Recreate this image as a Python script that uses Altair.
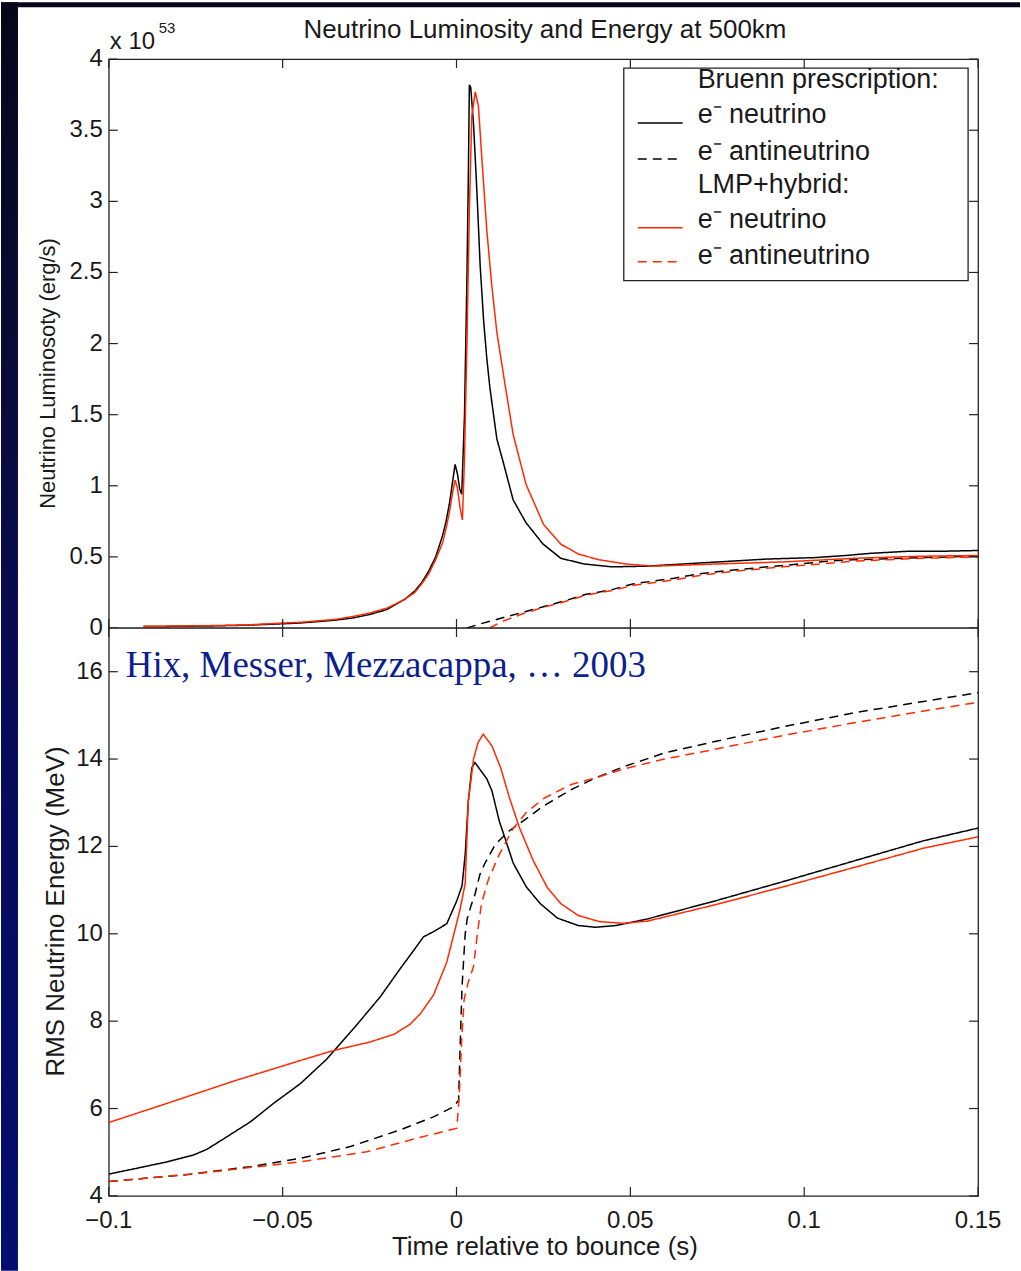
import altair as alt
import pandas as pd

# ---------------- data ----------------
SERIES = ["Bruenn e\u207b neutrino", "Bruenn e\u207b antineutrino",
          "LMP+hybrid e\u207b neutrino", "LMP+hybrid e\u207b antineutrino"]

# Luminosity (10^53 erg/s)
lum_bn_t = [-0.09, -0.08, -0.07, -0.06, -0.05, -0.045, -0.04, -0.035, -0.03, -0.025, -0.02, -0.015,
            -0.012, -0.01, -0.008, -0.006, -0.004, -0.003, -0.002, -0.001, -0.0004, 0.0003, 0.0009,
            0.0015, 0.0023, 0.0030, 0.0034, 0.0037, 0.0041, 0.0049, 0.0054, 0.0059, 0.0068, 0.0078,
            0.0087, 0.0096, 0.0116, 0.0135, 0.0163, 0.020, 0.0249, 0.030, 0.0368, 0.0447, 0.0547,
            0.0685, 0.079, 0.0893, 0.103, 0.112, 0.119, 0.130, 0.140, 0.150]
lum_bn_v = [0.01, 0.012, 0.015, 0.02, 0.03, 0.035, 0.045, 0.055, 0.07, 0.095, 0.13, 0.2,
            0.26, 0.32, 0.4, 0.5, 0.65, 0.75, 0.88, 1.05, 1.15, 1.08, 0.98,
            0.94, 1.5, 2.47, 3.17, 3.82, 3.8, 3.54, 3.3, 3.05, 2.55, 2.16,
            1.9, 1.69, 1.33, 1.16, 0.9, 0.74, 0.59, 0.49, 0.45, 0.43, 0.435,
            0.455, 0.47, 0.485, 0.495, 0.51, 0.525, 0.54, 0.54, 0.545]

lum_ba_t = [0.003, 0.007, 0.013, 0.019, 0.025, 0.031, 0.037, 0.0447, 0.0507, 0.0626, 0.0695,
            0.0804, 0.094, 0.107, 0.114, 0.134, 0.150]
lum_ba_v = [0.0, 0.03, 0.07, 0.11, 0.15, 0.19, 0.235, 0.27, 0.31, 0.35, 0.38,
            0.41, 0.44, 0.47, 0.48, 0.495, 0.505]

lum_ln_t = [-0.09, -0.08, -0.07, -0.06, -0.05, -0.045, -0.04, -0.035, -0.03, -0.025, -0.02, -0.015,
            -0.012, -0.01, -0.008, -0.006, -0.004, -0.003, -0.002, -0.001, -0.0004, 0.0003, 0.0010,
            0.0017, 0.0023, 0.0030, 0.0037, 0.0044, 0.0054, 0.0063, 0.0073, 0.0087, 0.0101, 0.0116,
            0.0139, 0.0163, 0.020, 0.025, 0.030, 0.035, 0.041, 0.0487, 0.0567, 0.0745, 0.0943,
            0.114, 0.134, 0.150]
lum_ln_v = [0.012, 0.014, 0.017, 0.022, 0.035, 0.04, 0.05, 0.06, 0.08, 0.105, 0.14, 0.2,
            0.25, 0.31, 0.38, 0.48, 0.6, 0.7, 0.82, 0.97, 1.04, 0.98, 0.85,
            0.76, 1.2, 2.0, 2.94, 3.6, 3.77, 3.67, 3.3, 2.8, 2.42, 2.08,
            1.72, 1.36, 1.01, 0.73, 0.59, 0.52, 0.48, 0.45, 0.435, 0.45, 0.465,
            0.49, 0.505, 0.51]

lum_la_t = [0.0095, 0.013, 0.019, 0.025, 0.031, 0.037, 0.045, 0.051, 0.063, 0.070, 0.080,
            0.094, 0.107, 0.114, 0.134, 0.150]
lum_la_v = [0.0, 0.045, 0.1, 0.145, 0.185, 0.23, 0.265, 0.3, 0.34, 0.37, 0.4,
            0.43, 0.455, 0.47, 0.49, 0.50]

# RMS energy (MeV)
en_bn_t = [-0.1, -0.0927, -0.0832, -0.0755, -0.0717, -0.0659, -0.0592, -0.0526, -0.0449, -0.0372,
           -0.0296, -0.022, -0.0162, -0.0125, -0.0095, -0.0066, -0.0028, 0.0001, 0.0016, 0.0025,
           0.0034, 0.0044, 0.0053, 0.0087, 0.0102, 0.0123, 0.0142, 0.0163, 0.0201, 0.0241, 0.029,
           0.035, 0.040, 0.0459, 0.0549, 0.0747, 0.0946, 0.1144, 0.1343, 0.150]
en_bn_v = [4.5, 4.62, 4.78, 4.94, 5.07, 5.36, 5.70, 6.12, 6.57, 7.14,
           7.83, 8.55, 9.2, 9.6, 9.93, 10.05, 10.23, 10.76, 11.1, 11.82,
           13.04, 13.8, 13.92, 13.55, 13.27, 12.58, 12.13, 11.62, 11.07, 10.69, 10.36,
           10.19, 10.15, 10.19, 10.34, 10.76, 11.21, 11.67, 12.13, 12.42]

en_ba_t = [-0.1, -0.0784, -0.0592, -0.0449, -0.0305, -0.0162, -0.0066, -0.0009, 0.0006, 0.0010,
           0.0016, 0.0025, 0.0031, 0.0042, 0.0053, 0.0067, 0.0082, 0.0112, 0.0152, 0.0191, 0.0251,
           0.033, 0.040, 0.0479, 0.0598, 0.0747, 0.0946, 0.1144, 0.1343, 0.150]
en_ba_v = [4.33, 4.48, 4.67, 4.86, 5.13, 5.51, 5.81, 6.04, 6.19, 7.3,
           8.8, 10.0, 10.35, 10.65, 10.9, 11.35, 11.62, 12.05, 12.36, 12.58, 12.93,
           13.3, 13.57, 13.82, 14.14, 14.41, 14.75, 15.06, 15.32, 15.52]

en_ln_t = [-0.1, -0.0832, -0.064, -0.0449, -0.0353, -0.025, -0.018, -0.0135, -0.0104, -0.0066,
           -0.0028, 0.001, 0.0025, 0.0034, 0.0049, 0.0062, 0.0077, 0.0102, 0.0127, 0.0152, 0.0181,
           0.0221, 0.0261, 0.030, 0.035, 0.041, 0.0479, 0.0549, 0.0747, 0.0946, 0.1144, 0.1343, 0.150]
en_ln_v = [5.68, 6.12, 6.63, 7.1, 7.33, 7.52, 7.7, 7.92, 8.17, 8.6,
           9.35, 10.55, 11.15, 13.04, 14.0, 14.38, 14.57, 14.3, 13.8, 13.12, 12.43,
           11.67, 11.06, 10.69, 10.42, 10.28, 10.24, 10.29, 10.67, 11.09, 11.52, 11.96, 12.22]

en_la_t = [-0.1, -0.0736, -0.0449, -0.0258, -0.0114, 0.0001, 0.0008, 0.0015, 0.0022, 0.0034,
           0.0049, 0.0060, 0.0072, 0.0092, 0.0122, 0.0162, 0.0201, 0.0251, 0.033, 0.040, 0.0479,
           0.0598, 0.0747, 0.0946, 0.1144, 0.1343, 0.150]
en_la_v = [4.33, 4.52, 4.78, 5.01, 5.32, 5.55, 6.3, 7.6, 8.5, 8.9,
           9.25, 10.0, 10.7, 11.25, 11.8, 12.4, 12.78, 13.1, 13.42, 13.57, 13.77,
           14.0, 14.23, 14.55, 14.83, 15.1, 15.3]

X_TICKS = [-0.1, -0.05, 0, 0.05, 0.1, 0.15]
X_LABELS = ["\u22120.1", "\u22120.05", "0", "0.05", "0.1", "0.15"]
LUM_TICKS = [0, 0.5, 1, 1.5, 2, 2.5, 3, 3.5, 4]
LUM_LABELS = ["0", "0.5", "1", "1.5", "2", "2.5", "3", "3.5", "4"]
EN_TICKS = [4, 6, 8, 10, 12, 14, 16]
EN_LABELS = ["4", "6", "8", "10", "12", "14", "16"]

TITLE = "Neutrino Luminosity and Energy at 500km"
LUM_TITLE = "Neutrino Luminosoty (erg/s)"
EN_TITLE = "RMS Neutrino Energy (MeV)"
X_TITLE = "Time relative to bounce (s)"
NOTE = "Hix, Messer, Mezzacappa, \u2026 2003"
LEGEND_ROWS = ["Bruenn prescription:", "e\u207b neutrino", "e\u207b antineutrino",
               "LMP+hybrid:", "e\u207b neutrino", "e\u207b antineutrino"]

# ---------------- styling ----------------
W, H1, H2 = 871, 570, 569
FONT = "Liberation Sans"
TXT = "#1a1a1a"
AX = "#222222"
BLACK, RED = "#000000", "#ff2a00"
COLORS = [BLACK, BLACK, RED, RED]
DASHES = [[1, 0], [9, 6], [1, 0], [9, 6]]
TICK = 9
LABEL_SIZE = 24

xscale = alt.Scale(domain=[-0.1, 0.15], nice=False, zero=False)
lscale = alt.Scale(domain=[0, 4], nice=False, zero=False)
escale = alt.Scale(domain=[4, 17], nice=False, zero=False)


def frame(parts):
    rows = []
    for name, ts, vs in parts:
        for t, v in zip(ts, vs):
            rows.append({"t": t, "v": v, "series": name})
    return pd.DataFrame(rows)


lum_df = frame([(SERIES[0], lum_bn_t, lum_bn_v), (SERIES[1], lum_ba_t, lum_ba_v),
                (SERIES[2], lum_ln_t, lum_ln_v), (SERIES[3], lum_la_t, lum_la_v)])
en_df = frame([(SERIES[0], en_bn_t, en_bn_v), (SERIES[1], en_ba_t, en_ba_v),
               (SERIES[2], en_ln_t, en_ln_v), (SERIES[3], en_la_t, en_la_v)])

one = pd.DataFrame({"d": [0]})


def lines(df, yscale):
    return alt.Chart(df).mark_line(strokeWidth=1.5).encode(
        x=alt.X("t:Q", scale=xscale, axis=None),
        y=alt.Y("v:Q", scale=yscale, axis=None),
        color=alt.Color("series:N", scale=alt.Scale(domain=SERIES, range=COLORS), legend=None),
        strokeDash=alt.StrokeDash("series:N", scale=alt.Scale(domain=SERIES, range=DASHES),
                                  legend=None),
    )


def tick_layers(yvals, ylabels, yscale, h, xlabels=None):
    xt = pd.DataFrame({"t": X_TICKS, "label": X_LABELS})
    yt = pd.DataFrame({"v": yvals, "label": ylabels})
    rx = dict(stroke=AX, strokeWidth=1.2)
    layers = [
        alt.Chart(xt).mark_rule(**rx).encode(x=alt.X("t:Q", scale=xscale, axis=None),
                                             y=alt.value(0), y2=alt.value(TICK)),
        alt.Chart(xt).mark_rule(**rx).encode(x=alt.X("t:Q", scale=xscale, axis=None),
                                             y=alt.value(h - TICK), y2=alt.value(h)),
        alt.Chart(yt).mark_rule(**rx).encode(y=alt.Y("v:Q", scale=yscale, axis=None),
                                             x=alt.value(0), x2=alt.value(TICK)),
        alt.Chart(yt).mark_rule(**rx).encode(y=alt.Y("v:Q", scale=yscale, axis=None),
                                             x=alt.value(W - TICK), x2=alt.value(W)),
        alt.Chart(yt).mark_text(align="right", baseline="middle", font=FONT,
                                fontSize=LABEL_SIZE, color=TXT).encode(
            y=alt.Y("v:Q", scale=yscale, axis=None), x=alt.value(-6), text="label:N"),
    ]
    if xlabels:
        layers.append(
            alt.Chart(xt).mark_text(align="center", baseline="top", font=FONT,
                                    fontSize=LABEL_SIZE, color=TXT).encode(
                x=alt.X("t:Q", scale=xscale, axis=None), y=alt.value(h + 13), text="label:N"))
    return layers


def text(s, x, y, size=26, align="left", baseline="middle", angle=0, font=FONT, color=TXT):
    kw = dict(text=s, align=align, baseline=baseline, font=font, fontSize=size, color=color)
    if angle:
        kw["angle"] = angle
    return alt.Chart(one).mark_text(**kw).encode(x=alt.value(x), y=alt.value(y))


# dark slide background strips (left and top margins of the slide)
left_grad = {"gradient": "linear", "x1": 0, "y1": 0, "x2": 0, "y2": 1,
             "stops": [{"offset": 0, "color": "#06061a"}, {"offset": 0.25, "color": "#090a33"},
                       {"offset": 0.5, "color": "#080b52"}, {"offset": 0.75, "color": "#050d63"},
                       {"offset": 1, "color": "#030e6e"}]}
strip_left = alt.Chart(one).mark_rect(fill=left_grad, strokeWidth=0).encode(
    x=alt.value(-108), x2=alt.value(-91), y=alt.value(-57), y2=alt.value(1214))
strip_top = alt.Chart(one).mark_rect(fill="#07071c", strokeWidth=0).encode(
    x=alt.value(-108), x2=alt.value(913), y=alt.value(-57), y2=alt.value(-52))

# legend (manual, matlab style)
legend_box = alt.Chart(one).mark_rect(fill="white", stroke=AX, strokeWidth=1.3).encode(
    x=alt.value(516), x2=alt.value(861), y=alt.value(9), y2=alt.value(222))
row_y = [21, 56, 93, 126, 161, 197]
legend_texts = [text(s, 590, y, size=27) for s, y in zip(LEGEND_ROWS, row_y)]
line_rows = [(BLACK, [1, 0], 64), (BLACK, [9, 6], 100), (RED, [1, 0], 169), (RED, [9, 6], 203)]
legend_lines = [
    alt.Chart(one).mark_rule(stroke=c, strokeDash=d, strokeWidth=1.5).encode(
        x=alt.value(530), x2=alt.value(575), y=alt.value(y))
    for c, d, y in line_rows
]

top = alt.layer(
    strip_left, strip_top,
    lines(lum_df, lscale),
    *tick_layers(LUM_TICKS, LUM_LABELS, lscale, H1),
    legend_box, *legend_lines, *legend_texts,
    text(TITLE, 437, -29, size=26, align="center"),
    text("x 10", 1, -10, size=24, baseline="alphabetic"),
    text("53", 50, -26, size=15, baseline="alphabetic"),
    text(LUM_TITLE, -61, 315, size=22, align="center", angle=270),
).properties(width=W, height=H1)

bottom = alt.layer(
    lines(en_df, escale),
    *tick_layers(EN_TICKS, EN_LABELS, escale, H2, xlabels=True),
    text(NOTE, 17, 49, size=37, baseline="alphabetic", font="Liberation Serif", color="#0d1f8c"),
    text(EN_TITLE, -53, 284, size=26, align="center", angle=270),
    text(X_TITLE, 437, 620, size=26, align="center"),
).properties(width=W, height=H2)

chart = alt.vconcat(top, bottom, spacing=0, bounds="flush").properties(
    padding=0, background="white"
).configure_view(stroke=AX, strokeWidth=1.3, fill="white")

chart.save("out.html", embed_options={"renderer": "svg", "actions": False})
